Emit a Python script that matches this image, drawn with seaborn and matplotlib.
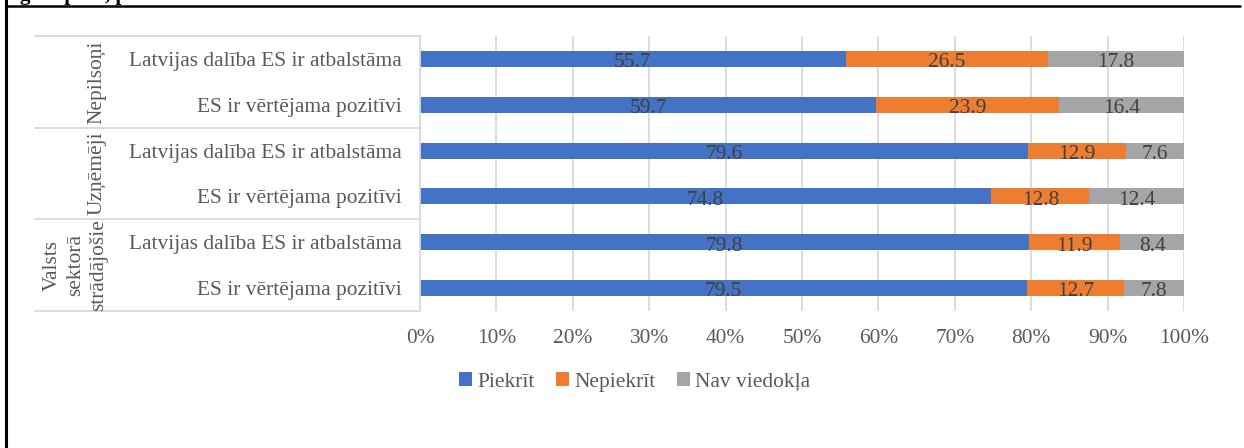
"""Stacked 100% bar chart: attitude to EU membership by group."""

import matplotlib
matplotlib.use("Agg")
import matplotlib.pyplot as plt
from matplotlib.lines import Line2D
from matplotlib.patches import Patch
import pandas as pd
import seaborn as sns

groups = ["Nepilsoņi", "Uzņēmēji", "Valsts\nsektorā\nstrādājošie"]
row_groups = ["Nepilsoņi", "Nepilsoņi", "Uzņēmēji", "Uzņēmēji",
              "Valsts\nsektorā\nstrādājošie", "Valsts\nsektorā\nstrādājošie"]
statements = ["Latvijas dalība ES ir atbalstāma", "ES ir vērtējama pozitīvi"] * 3
piekrit = [55.7, 59.7, 79.6, 74.8, 79.8, 79.5]
nepiekrit = [26.5, 23.9, 12.9, 12.8, 11.9, 12.7]
nav_viedokla = [17.8, 16.4, 7.6, 12.4, 8.4, 7.8]
series_names = ["Piekrīt", "Nepiekrīt", "Nav viedokļa"]
colors = ["#4472C4", "#ED7D31", "#A5A5A5"]

TEXT = "#595959"
GRID = "#D9D9D9"
FONT = ["Liberation Serif", "DejaVu Serif"]
FS = 15.4


def build_frame() -> pd.DataFrame:
    df = pd.DataFrame({
        "row": [f"{g}|{s}" for g, s in zip(row_groups, statements)],
        "statement": statements,
        "p": piekrit,
        "n": nepiekrit,
        "v": nav_viedokla,
    })
    total = df["p"] + df["n"] + df["v"]
    df["c1"] = df["p"] / total * 100
    df["c2"] = (df["p"] + df["n"]) / total * 100
    df["c3"] = 100.0
    return df


def main() -> None:
    sns.set_style("white")
    plt.rcParams["font.family"] = FONT
    df = build_frame()

    fig = plt.figure(figsize=(12.44, 4.48), dpi=100)
    ax = fig.add_axes([420 / 1244, 1 - 311 / 448, 764 / 1244, 275 / 448])

    # draw cumulative totals from largest to smallest
    for col, color in zip(["c3", "c2", "c1"], colors[::-1]):
        sns.barplot(data=df, x=col, y="row", color=color, saturation=1,
                    width=0.35, errorbar=None, ax=ax, linewidth=0)

    # value labels centred on each segment
    starts = [[0] * 6, list(df["c1"]), list(df["c2"])]
    ends = [list(df["c1"]), list(df["c2"]), list(df["c3"])]
    values = [piekrit, nepiekrit, nav_viedokla]
    for k in range(3):
        for i in range(6):
            mid = (starts[k][i] + ends[k][i]) / 2
            ax.text(mid, i + 0.03, f"{values[k][i]:.1f}", ha="center",
                    va="center_baseline", fontsize=FS, color="#404040")

    ax.set_xlim(0, 100)
    ax.set_ylim(5.5, -0.5)
    ax.set_xticks(range(0, 101, 10))
    ax.set_xticklabels([f"{t}%" for t in range(0, 101, 10)])
    ax.set_yticks(range(6))
    ax.set_yticklabels(statements)
    ax.set_xlabel("")
    ax.set_ylabel("")
    ax.tick_params(axis="x", length=0, pad=13, labelsize=FS, labelcolor=TEXT)
    ax.tick_params(axis="y", length=0, pad=13, labelsize=FS, labelcolor=TEXT)
    ax.xaxis.grid(True, color=GRID, lw=1.3)
    ax.set_axisbelow(True)
    for side in ["top", "right", "bottom"]:
        ax.spines[side].set_visible(False)
    ax.spines["left"].set_color(GRID)
    ax.spines["left"].set_linewidth(1.3)

    # group separators and rotated group labels
    ytrans = ax.get_yaxis_transform()
    for b in [-0.5, 1.5, 3.5, 5.5]:
        ax.plot([-0.504, 0], [b, b], transform=ytrans, clip_on=False,
                color=GRID, lw=1.3)
    label_pos = [(-0.423, 0.5), (-0.423, 2.5), (-0.451, 4.5)]
    for name, (gx, gy) in zip(groups, label_pos):
        ax.text(gx, gy, name, transform=ytrans, rotation=90, ha="center",
                va="center", multialignment="center", fontsize=FS,
                color=TEXT, linespacing=1.3)

    handles = [Patch(facecolor=c, edgecolor="none") for c in colors]
    fig.legend(handles, series_names, loc="center",
               bbox_to_anchor=(0.51, 1 - 382 / 448), ncol=3, frameon=False,
               handlelength=0.6, handleheight=0.6, handletextpad=0.25,
               columnspacing=1.0, fontsize=FS, labelcolor=TEXT)

    # page frame and the clipped heading above it
    fig.add_artist(Line2D([6 / 1244, 6 / 1244], [0, 1], color="black",
                          lw=2.2, transform=fig.transFigure))
    fig.add_artist(Line2D([6 / 1244, 1240 / 1244], [1 - 6 / 448] * 2,
                          color="black", lw=1.8, transform=fig.transFigure))
    fig.text(20 / 1244, 1.0, "g un pusē, p", fontsize=15, fontweight="bold",
             ha="left", va="baseline", color="black")

    fig.savefig("out.png", dpi=100)
    plt.close(fig)


if __name__ == "__main__":
    main()
